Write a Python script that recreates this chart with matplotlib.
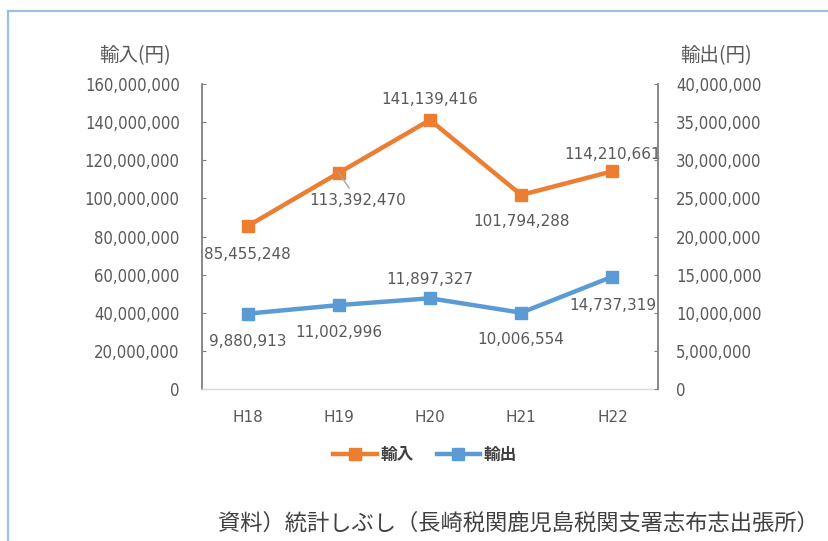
import matplotlib
matplotlib.use("Agg")
import matplotlib.pyplot as plt
from matplotlib.ticker import FuncFormatter, MultipleLocator
from matplotlib.lines import Line2D

years = ["H18", "H19", "H20", "H21", "H22"]
imports = [85455248, 113392470, 141139416, 101794288, 114210661]
exports = [9880913, 11002996, 11897327, 10006554, 14737319]

# label offsets in pixels (dx, dy)
imp_offsets = [(0, -28), (19, -28), (0, 20), (0, -27), (0, 17)]
exp_offsets = [(0, -28), (0, -27), (0, 19), (0, -27), (0, -29)]

orange = "#ED7D31"
blue = "#5B9BD5"
gray = "#595959"
jp = ["Noto Sans CJK JP", "DejaVu Sans"]

fig = plt.figure(figsize=(8.29, 5.41), dpi=100)

# light blue frame (top and left edges only)
fig.add_artist(Line2D([8 / 829, 1.0], [1 - 11 / 541, 1 - 11 / 541],
                      transform=fig.transFigure, color="#9CC0E4", lw=1.6))
fig.add_artist(Line2D([8 / 829, 8 / 829], [0.0, 1 - 11 / 541],
                      transform=fig.transFigure, color="#9CC0E4", lw=1.6))

ax = fig.add_axes([202 / 829, 1 - 389 / 541, 456 / 829, 305 / 541])
ax2 = ax.twinx()

x = list(range(len(years)))

ax.plot(x, imports, color=orange, lw=3.2, marker="s", ms=8,
        markerfacecolor=orange, markeredgecolor=orange, zorder=3)
ax2.plot(x, exports, color=blue, lw=3.2, marker="s", ms=8,
         markerfacecolor=blue, markeredgecolor=blue, zorder=3)

ax.set_xlim(-0.5, len(years) - 0.5)
ax.set_ylim(0, 160000000)
ax2.set_ylim(0, 40000000)
ax.yaxis.set_major_locator(MultipleLocator(20000000))
ax2.yaxis.set_major_locator(MultipleLocator(5000000))

fmt = FuncFormatter(lambda v, p: f"{int(v):,}")
ax.yaxis.set_major_formatter(fmt)
ax2.yaxis.set_major_formatter(fmt)

ax.set_xticks(x)
ax.set_xticklabels(years)

for a in (ax, ax2):
    for s in a.spines.values():
        s.set_visible(False)
ax.spines["left"].set_visible(True)
ax.spines["left"].set_color("#808080")
ax.spines["left"].set_linewidth(1.3)
ax.spines["bottom"].set_visible(True)
ax.spines["bottom"].set_color("#D9D9D9")
ax.spines["bottom"].set_linewidth(1.0)
ax2.spines["right"].set_visible(True)
ax2.spines["right"].set_color("#808080")
ax2.spines["right"].set_linewidth(1.3)

ax.tick_params(axis="y", direction="in", length=3, color="#808080",
               pad=16, labelcolor=gray, labelsize=12)
ax2.tick_params(axis="y", direction="in", length=3, color="#808080",
                pad=13, labelcolor=gray, labelsize=12)
ax.tick_params(axis="x", length=0, pad=15, labelcolor=gray, labelsize=11)

for lab in ax.get_yticklabels() + ax2.get_yticklabels():
    lab.set_fontstretch("condensed")

# data labels
for i, v in enumerate(imports):
    dx, dy = imp_offsets[i]
    kw = {}
    if i == 1:
        kw["arrowprops"] = dict(arrowstyle="-", color="#A6A6A6", lw=1,
                                shrinkA=2, shrinkB=0)
    ax.annotate(f"{v:,}", (i, v), xytext=(dx, dy), textcoords="offset pixels",
                ha="center", va="center", fontsize=11, color=gray, **kw)
for i, v in enumerate(exports):
    dx, dy = exp_offsets[i]
    ax2.annotate(f"{v:,}", (i, v), xytext=(dx, dy), textcoords="offset pixels",
                 ha="center", va="center", fontsize=11, color=gray)

# axis titles
fig.text(135 / 829, 1 - 56 / 541, "輸入(円)", ha="center", va="center",
         fontsize=14, color=gray, family=jp)
fig.text(716 / 829, 1 - 56 / 541, "輸出(円)", ha="center", va="center",
         fontsize=14, color=gray, family=jp)

# legend
h1 = Line2D([], [], color=orange, lw=3.2, marker="s", ms=8)
h2 = Line2D([], [], color=blue, lw=3.2, marker="s", ms=8)
leg = fig.legend([h1, h2], ["輸入", "輸出"], loc="center",
                 bbox_to_anchor=(425 / 829, 1 - 455 / 541), ncol=2,
                 frameon=False, handlelength=2.6, handletextpad=0.2,
                 columnspacing=1.4, prop={"family": jp, "size": 12, "weight": "bold"})
for t in leg.get_texts():
    t.set_color("#404040")

# source
fig.text(518 / 829, 1 - 523 / 541, "資料）統計しぶし（長崎税関鹿児島税関支署志布志出張所）",
         ha="center", va="center", fontsize=16, color="#404040", family=jp)

fig.savefig("out.png", dpi=100)
